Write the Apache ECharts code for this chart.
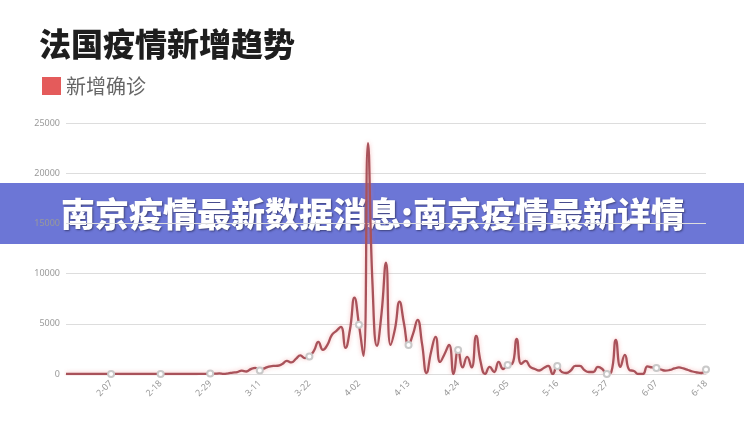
<!DOCTYPE html>
<html>
<head>
<meta charset="utf-8">
<script src="https://cdn.jsdelivr.net/npm/echarts@6/dist/echarts.min.js"></script>
<style>
html,body{margin:0;padding:0;background:#fff;}
#chart{width:744px;height:428px;}
</style>
</head>
<body>
<div id="chart"></div>
<script>
const titleText = '法国疫情新增趋势';
const seriesName = '新增确诊';
const bannerText = '南京疫情最新数据消息:南京疫情最新详情';

const dates = [
 '1-28','1-29','1-30','1-31',
 '2-01','2-02','2-03','2-04','2-05','2-06','2-07','2-08','2-09','2-10','2-11','2-12','2-13','2-14','2-15','2-16','2-17','2-18','2-19','2-20','2-21','2-22','2-23','2-24','2-25','2-26','2-27','2-28','2-29',
 '3-01','3-02','3-03','3-04','3-05','3-06','3-07','3-08','3-09','3-10','3-11','3-12','3-13','3-14','3-15','3-16','3-17','3-18','3-19','3-20','3-21','3-22','3-23','3-24','3-25','3-26','3-27','3-28','3-29','3-30','3-31',
 '4-01','4-02','4-03','4-04','4-05','4-06','4-07','4-08','4-09','4-10','4-11','4-12','4-13','4-14','4-15','4-16','4-17','4-18','4-19','4-20','4-21','4-22','4-23','4-24','4-25','4-26','4-27','4-28','4-29','4-30',
 '5-01','5-02','5-03','5-04','5-05','5-06','5-07','5-08','5-09','5-10','5-11','5-12','5-13','5-14','5-15','5-16','5-17','5-18','5-19','5-20','5-21','5-22','5-23','5-24','5-25','5-26','5-27','5-28','5-29','5-30','5-31',
 '6-01','6-02','6-03','6-04','6-05','6-06','6-07','6-08','6-09','6-10','6-11','6-12','6-13','6-14','6-15','6-16','6-17','6-18'
];

const newCases = [
 0,0,0,1,
 0,0,0,0,0,0,0,5,0,0,0,0,0,0,1,0,0,0,0,0,0,0,0,0,0,2,20,19,43,
 30,61,21,73,138,190,330,250,480,620,350,560,740,800,820,1000,1300,1150,1500,1850,1580,1750,2300,3200,2400,2900,3900,4300,4700,2600,4400,
 7600,4900,1800,23000,9000,2800,6000,11100,2900,4500,7200,5000,2900,4000,5400,3000,100,2200,3700,1200,2000,2900,0,2400,650,1700,650,3800,1200,0,
 700,200,1200,500,900,1000,3500,1000,1300,700,500,350,600,800,0,800,200,100,350,800,800,400,200,200,700,500,0,200,3400,700,1900,
 400,300,0,0,750,650,600,450,330,400,550,650,550,400,250,150,100,450
];

const yTicks = [0, 5000, 10000, 15000, 20000, 25000];
const firstLabelIndex = 10;
const labelStep = 11;

const chart = echarts.init(document.getElementById('chart'));
chart.setOption({
  animation: false,
  backgroundColor: '#fff',
  title: {
    text: titleText,
    left: 34,
    top: 23,
    textStyle: {
      fontSize: 32,
      fontWeight: 900,
      color: '#1e1e1e',
      fontFamily: '"Noto Sans CJK SC", sans-serif'
    }
  },
  legend: {
    data: [{name: seriesName, icon: 'rect', itemStyle: {color: '#e45b5b', borderWidth: 0}}],
    left: 37,
    top: 71,
    itemWidth: 19,
    itemHeight: 18,
    itemGap: 4,
    textStyle: {
      fontSize: 20,
      color: '#666',
      fontFamily: '"Noto Sans CJK SC", sans-serif'
    }
  },
  grid: {
    left: 66,
    right: 38,
    top: 123,
    bottom: 54
  },
  xAxis: {
    type: 'category',
    data: dates,
    boundaryGap: false,
    axisLine: {show: true, lineStyle: {color: '#ddd'}},
    axisTick: {show: false},
    axisLabel: {
      rotate: 45,
      color: '#999',
      fontSize: 9,
      margin: 8,
      fontFamily: '"Noto Sans", sans-serif',
      interval: function (index) { return index >= firstLabelIndex && (index - firstLabelIndex) % labelStep === 0; }
    }
  },
  yAxis: {
    type: 'value',
    min: yTicks[0],
    max: yTicks[yTicks.length - 1],
    interval: yTicks[1] - yTicks[0],
    axisLine: {show: false},
    axisTick: {show: false},
    axisLabel: {
      color: '#999',
      fontSize: 9,
      margin: 6,
      fontFamily: '"Noto Sans", sans-serif',
      formatter: function (v) { return String(v); }
    },
    splitLine: {lineStyle: {color: '#ddd'}}
  },
  series: [{
    name: seriesName,
    type: 'line',
    data: newCases,
    smooth: true,
    symbol: 'emptyCircle',
    symbolSize: 6,
    showSymbol: true,
    itemStyle: {color: '#c9c9c9'},
    lineStyle: {
      color: '#a9525a',
      width: 2.3,
      shadowColor: 'rgba(235,110,110,0.45)',
      shadowBlur: 4
    }
  }],
  graphic: [{
    type: 'group',
    z: 100,
    children: [{
      type: 'rect',
      shape: {x: 0, y: 183, width: 744, height: 61},
      style: {fill: 'rgba(84,96,207,0.86)'}
    }, {
      type: 'text',
      style: {
        text: bannerText,
        x: 373,
        y: 214,
        textAlign: 'center',
        textVerticalAlign: 'middle',
        fill: '#fff',
        font: '900 34px "Noto Sans CJK SC", sans-serif',
        textShadowColor: 'rgba(30,30,60,0.6)',
        textShadowBlur: 2,
        textShadowOffsetX: 1,
        textShadowOffsetY: 1
      }
    }]
  }]
});
</script>
</body>
</html>
